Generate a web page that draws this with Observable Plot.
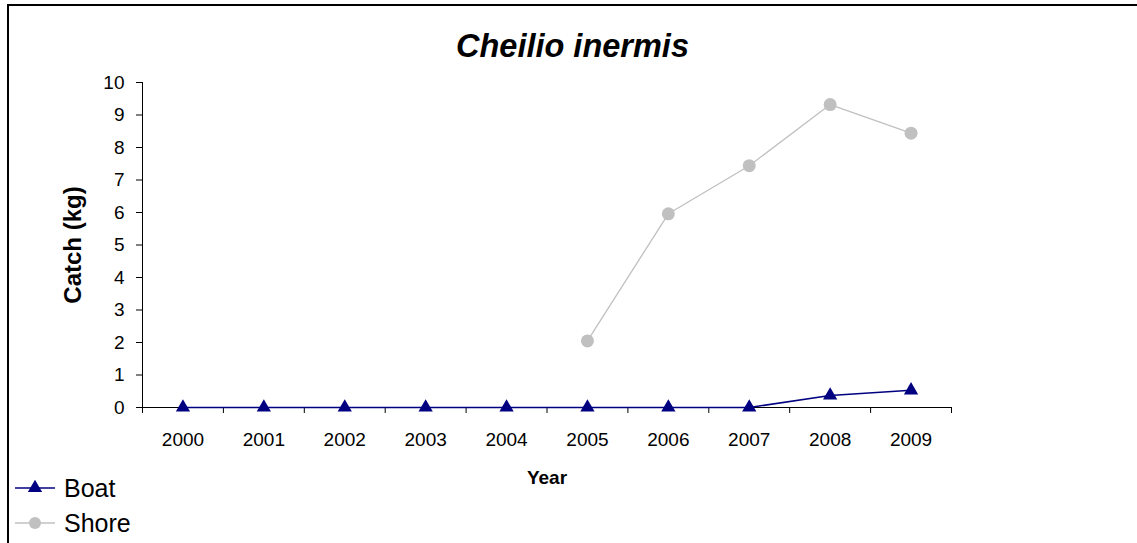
<!DOCTYPE html>
<html>
<head>
<meta charset="utf-8">
<script src="https://cdn.jsdelivr.net/npm/d3@7"></script>
<script src="https://cdn.jsdelivr.net/npm/@observablehq/plot@0.6"></script>
<style>
  html, body { margin: 0; padding: 0; background: #fff; }
  #wrap { position: relative; width: 1137px; height: 543px; overflow: hidden; font-family: "Liberation Sans", Arial, sans-serif; color: #000; }
  #frame { position: absolute; left: 7px; top: 4px; width: 1140px; height: 600px; border-top: 2px solid #000; border-left: 2px solid #000; }
  #title { position: absolute; left: 8px; width: 1129px; top: 26px; text-align: center; font-size: 32.5px; font-weight: bold; font-style: italic; line-height: 40px; }
  #chart { position: absolute; left: 0; top: 0; }
  .leg { position: absolute; left: 14px; display: flex; align-items: center; font-size: 25px; line-height: 30px; }
  .leg svg { margin-right: 8px; }
</style>
</head>
<body>
<div id="wrap">
  <div id="frame"></div>
  <div id="chart"></div>
  <div id="title">Cheilio inermis</div>
  <div class="leg" id="legBoat" style="top:473px"></div>
  <div class="leg" id="legShore" style="top:508px"></div>
</div>
<script>
const years = [2000, 2001, 2002, 2003, 2004, 2005, 2006, 2007, 2008, 2009];
const boat  = [0, 0, 0, 0, 0, 0, 0, 0, 0.37, 0.53];
const shore = [null, null, null, null, null, 2.05, 5.96, 7.44, 9.32, 8.44];
const yTicks = [0, 1, 2, 3, 4, 5, 6, 7, 8, 9, 10];
const seriesNames = ["Boat", "Shore"];
const seriesColors = ["#000080", "#C0C0C0"];

const rows = years.map((year, i) => ({year, boat: boat[i], shore: shore[i]}));
const shoreRows = rows.filter(d => d.shore != null);
const bounds = years.map(y => y - 0.5).concat([years[years.length - 1] + 0.5]);

const chart = Plot.plot({
  width: 1137,
  height: 543,
  marginLeft: 142,
  marginRight: 186,
  marginTop: 82,
  marginBottom: 136,
  style: {fontFamily: "'Liberation Sans', Arial, sans-serif", background: "transparent", color: "#000", fontSize: "19px"},
  x: {type: "linear", domain: [bounds[0], bounds[bounds.length - 1]]},
  y: {domain: [0, 10]},
  marks: [
    Plot.axisY({ticks: yTicks, tickSize: 6, tickPadding: 12, tickFormat: d => String(d), label: null, fontSize: 19, stroke: "#000"}),
    Plot.axisX({ticks: bounds, tickSize: 6, tickFormat: () => "", label: null, stroke: "#000"}),
    Plot.axisX({ticks: years, tickSize: 0, tickPadding: 25, tickFormat: d => String(d), label: null, fontSize: 19}),
    Plot.ruleY([0], {stroke: "#000", strokeWidth: 1}),
    Plot.ruleX([bounds[0]], {stroke: "#000", strokeWidth: 1}),
    Plot.text(["Year"], {frameAnchor: "bottom", dy: 76, fontWeight: "bold", fontSize: 19}),
    Plot.text(["Catch (kg)"], {frameAnchor: "left", textAnchor: "middle", dx: -69, rotate: -90, fontWeight: "bold", fontSize: 24}),
    Plot.line(shoreRows, {x: "year", y: "shore", stroke: seriesColors[1], strokeWidth: 1.3}),
    Plot.dot(shoreRows, {x: "year", y: "shore", r: 6.5, fill: seriesColors[1], stroke: "none"}),
    Plot.line(rows, {x: "year", y: "boat", stroke: seriesColors[0], strokeWidth: 1.6}),
    Plot.dot(rows, {x: "year", y: "boat", symbol: "triangle", r: 5.3, fill: seriesColors[0], stroke: "none"})
  ]
});
document.getElementById("chart").appendChild(chart);

function legendSwatch(color, symbol) {
  const s = d3.create("svg").attr("width", 42).attr("height", 20);
  s.append("line").attr("x1", 1).attr("x2", 41).attr("y1", 10).attr("y2", 10).attr("stroke", color).attr("stroke-width", 1.5);
  s.append("path").attr("transform", "translate(21,10)").attr("d", d3.symbol(symbol, Math.PI * (symbol === d3.symbolCircle ? 36 : 28))()).attr("fill", color);
  return s.node();
}
const lb = document.getElementById("legBoat");
lb.appendChild(legendSwatch(seriesColors[0], d3.symbolTriangle));
lb.appendChild(document.createTextNode(seriesNames[0]));
const ls = document.getElementById("legShore");
ls.appendChild(legendSwatch(seriesColors[1], d3.symbolCircle));
ls.appendChild(document.createTextNode(seriesNames[1]));
</script>
</body>
</html>
